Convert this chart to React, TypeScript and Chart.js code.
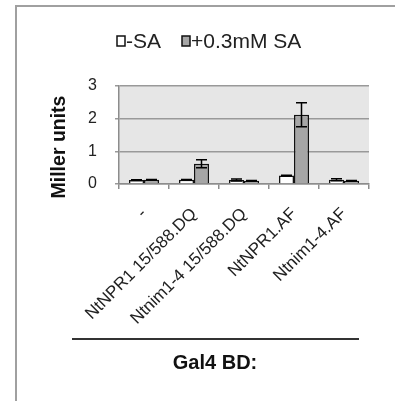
import React, { useEffect, useRef } from "react";
import { Chart, registerables } from "chart.js";

Chart.register(...registerables);

const categories = ["-", "NtNPR1 15/588.DQ", "Ntnim1-4 15/588.DQ", "NtNPR1.AF", "Ntnim1-4.AF"];
const minusSA = [0.12, 0.13, 0.12, 0.26, 0.13];
const minusSAErr = [0.01, 0.01, 0.03, 0.01, 0.03];
const plusSA = [0.13, 0.62, 0.1, 2.12, 0.1];
const plusSAErr = [0.01, 0.12, 0.01, 0.37, 0.01];
const yTicks = [0, 1, 2, 3];
const legendLabels = ["-SA", "+0.3mM SA"];
const yTitle = "Miller units";
const xTitle = "Gal4 BD:";

const FONT = "'Liberation Sans', Arial, sans-serif";

const framePlugin = {
  id: "frame",
  beforeDraw(chart: any) {
    const ctx = chart.ctx;
    ctx.save();
    ctx.fillStyle = "#ffffff";
    ctx.fillRect(0, 0, chart.width, chart.height);
    ctx.strokeStyle = "#a0a0a0";
    ctx.lineWidth = 2;
    ctx.beginPath();
    ctx.moveTo(16, chart.height);
    ctx.lineTo(16, 6);
    ctx.lineTo(chart.width, 6);
    ctx.stroke();
    const a = chart.chartArea;
    ctx.fillStyle = "#e6e6e6";
    ctx.fillRect(a.left, a.top, a.right - a.left, a.bottom - a.top);
    ctx.restore();
  },
};

const errorBarPlugin = {
  id: "errorBars",
  afterDatasetsDraw(chart: any) {
    const ctx = chart.ctx;
    const yScale = chart.scales.y;
    ctx.save();
    ctx.strokeStyle = "#000000";
    ctx.lineWidth = 1.5;
    chart.data.datasets.forEach((ds: any, i: number) => {
      const errs = ds.errors as number[];
      if (!errs) return;
      const meta = chart.getDatasetMeta(i);
      meta.data.forEach((el: any, j: number) => {
        const v = ds.data[j];
        const e = errs[j];
        const x = el.x;
        const yT = yScale.getPixelForValue(v + e);
        const yB = yScale.getPixelForValue(Math.max(0, v - e));
        const cap = 5.5;
        ctx.beginPath();
        ctx.moveTo(x, yT);
        ctx.lineTo(x, yB);
        ctx.moveTo(x - cap, yT);
        ctx.lineTo(x + cap, yT);
        ctx.moveTo(x - cap, yB);
        ctx.lineTo(x + cap, yB);
        ctx.stroke();
      });
    });
    ctx.restore();
  },
};

const decorPlugin = {
  id: "decor",
  afterDraw(chart: any) {
    const ctx = chart.ctx;
    ctx.save();
    // legend
    ctx.font = `21px ${FONT}`;
    ctx.textBaseline = "middle";
    ctx.textAlign = "left";
    const ly = 41;
    const items = [
      { x: 117, label: legendLabels[0], ds: chart.data.datasets[0] },
      { x: 182, label: legendLabels[1], ds: chart.data.datasets[1] },
    ];
    items.forEach((it) => {
      ctx.fillStyle = it.ds.backgroundColor;
      ctx.fillRect(it.x, ly - 5, 8, 10);
      ctx.strokeStyle = "#111";
      ctx.lineWidth = 1.5;
      ctx.strokeRect(it.x, ly - 5, 8, 10);
      ctx.fillStyle = "#222";
      ctx.fillText(it.label, it.x + 9, ly + 1);
    });
    // y title
    ctx.save();
    ctx.translate(60, 147);
    ctx.rotate(-Math.PI / 2);
    ctx.font = `bold 19.5px ${FONT}`;
    ctx.textAlign = "center";
    ctx.textBaseline = "middle";
    ctx.fillStyle = "#111";
    ctx.fillText(yTitle, 0, 0);
    ctx.restore();
    // underline
    ctx.strokeStyle = "#333";
    ctx.lineWidth = 2;
    ctx.beginPath();
    ctx.moveTo(72, 339);
    ctx.lineTo(359, 339);
    ctx.stroke();
    // x title
    ctx.font = `bold 20px ${FONT}`;
    ctx.textAlign = "center";
    ctx.textBaseline = "middle";
    ctx.fillStyle = "#111";
    ctx.fillText(xTitle, 215, 363);
    ctx.restore();
  },
};

export default function App() {
  const ref = useRef<HTMLCanvasElement>(null);
  useEffect(() => {
    document.body.style.margin = "0";
    const canvas = ref.current!;
    const chart = new Chart(canvas, {
      type: "bar",
      data: {
        labels: categories,
        datasets: [
          {
            label: legendLabels[0],
            data: minusSA,
            errors: minusSAErr,
            backgroundColor: "#ffffff",
            borderColor: "#111111",
            borderWidth: 1.5,
            categoryPercentage: 0.6,
            barPercentage: 1,
          } as any,
          {
            label: legendLabels[1],
            data: plusSA,
            errors: plusSAErr,
            backgroundColor: "#a6a6a6",
            borderColor: "#111111",
            borderWidth: 1.5,
            categoryPercentage: 0.6,
            barPercentage: 1,
          } as any,
        ],
      },
      options: {
        responsive: false,
        animation: false,
        layout: { padding: { top: 86, right: 26, bottom: 0, left: 0 } },
        plugins: { legend: { display: false }, tooltip: { enabled: false } },
        scales: {
          x: {
            afterFit: (s: any) => {
              s.height = 217;
            },
            grid: {
              offset: true,
              drawOnChartArea: false,
              drawTicks: true,
              tickLength: 5,
              color: "#8c8c8c",
              lineWidth: 1.5,
            },
            border: { color: "#8c8c8c", width: 1.5 },
            ticks: {
              minRotation: 45,
              maxRotation: 45,
              padding: 15,
              color: "#222",
              font: { family: FONT, size: 17 },
            },
          },
          y: {
            min: 0,
            max: 3,
            afterFit: (s: any) => {
              s.width = 119;
            },
            afterBuildTicks: (s: any) => {
              s.ticks = yTicks.map((v) => ({ value: v }));
            },
            grid: {
              color: "#999999",
              lineWidth: 1.5,
              drawTicks: true,
              tickLength: 4,
            },
            border: { color: "#8c8c8c", width: 1.5 },
            ticks: {
              padding: 18,
              color: "#222",
              font: { family: FONT, size: 16 },
            },
          },
        },
      },
      plugins: [framePlugin, errorBarPlugin, decorPlugin],
    });
    return () => chart.destroy();
  }, []);
  return (
    <div style={{ width: 395, height: 401 }}>
      <canvas ref={ref} width={395} height={401} style={{ display: "block" }} />
    </div>
  );
}
